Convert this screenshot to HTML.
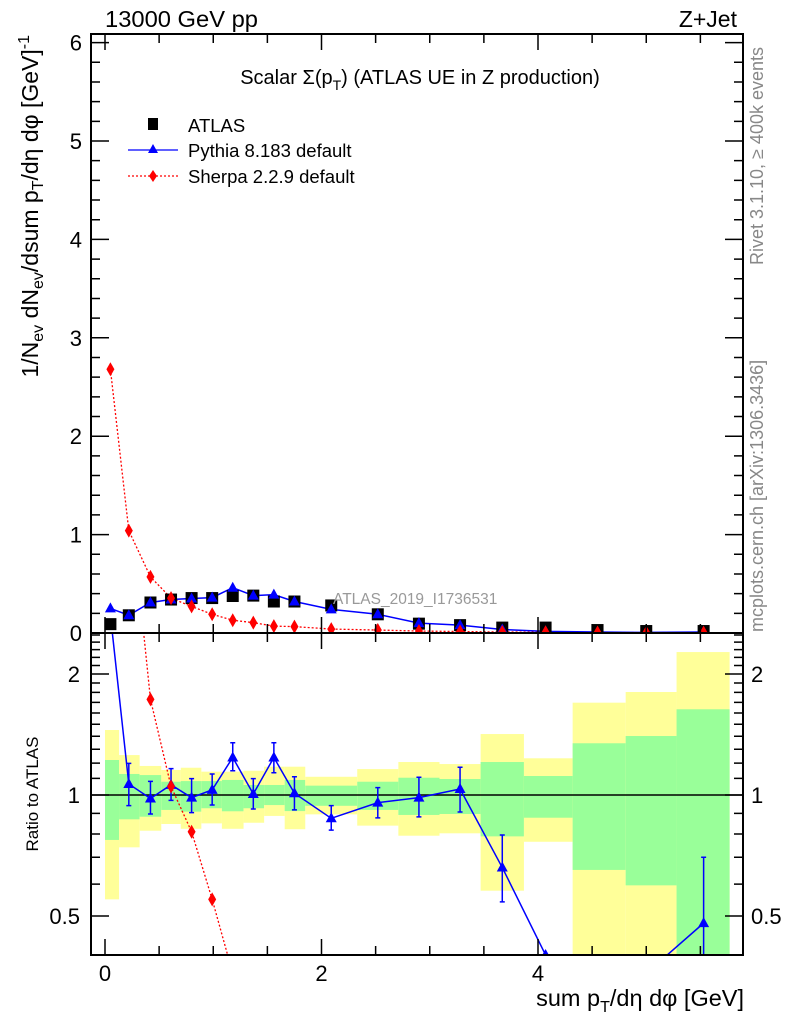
<!DOCTYPE html>
<html><head><meta charset="utf-8"><style>
html,body{margin:0;padding:0;background:#fff;overflow:hidden;width:786px;height:1024px;}
svg{display:block;font-family:"Liberation Sans",sans-serif;}
</style></head><body>
<svg id="chart" width="786" height="1024" viewBox="0 0 786 1024" xmlns="http://www.w3.org/2000/svg">
<rect x="0" y="0" width="786" height="1024" fill="#fff"/>
<g id="bands"></g>
<g id="marks"></g>
<g id="axes"></g>
<text x="105" y="27" font-size="23" textLength="153" lengthAdjust="spacingAndGlyphs">13000 GeV pp</text>
<text x="737" y="27" font-size="23" text-anchor="end">Z+Jet</text>
<text x="420" y="84" font-size="20" text-anchor="middle">Scalar Σ(p<tspan font-size="14" dy="6">T</tspan><tspan dy="-6">) (ATLAS UE in Z production)</tspan></text>
<g>
<g><rect x="148" y="118" width="10" height="12" fill="#000"/><text x="188" y="132" font-size="18.5">ATLAS</text></g>
<g><line x1="128" y1="150" x2="178" y2="150" stroke="#00f" stroke-width="1.3"/><path d="M153,144 L158,153 L148,153 Z" fill="#00f"/><text x="188" y="157" font-size="18.5">Pythia 8.183 default</text></g>
<g><line x1="128" y1="176" x2="178" y2="176" stroke="#f00" stroke-width="1.3" stroke-dasharray="2,2"/><path d="M153,170 L157,176 L153,182 L149,176 Z" fill="#f00"/><text x="188" y="183" font-size="18.5">Sherpa 2.2.9 default</text></g>
</g>
<text x="333" y="604" font-size="15.5" fill="#999">ATLAS_2019_I1736531</text>
<text transform="translate(38,35) rotate(-90)" font-size="23" text-anchor="end">1/N<tspan font-size="16" dy="5">ev</tspan><tspan dy="-5"> dN</tspan><tspan font-size="16" dy="5">ev</tspan><tspan dy="-5">/dsum p</tspan><tspan font-size="16" dy="5">T</tspan><tspan dy="-5">/dη dφ  [GeV]</tspan><tspan font-size="16" dy="-9">-1</tspan></text>
<text transform="translate(38,794) rotate(-90)" font-size="17" text-anchor="middle">Ratio to ATLAS</text>
<text x="744" y="1006" font-size="23.5" text-anchor="end">sum p<tspan font-size="16" dy="6">T</tspan><tspan dy="-6">/dη dφ [GeV]</tspan></text>
<text transform="translate(763,265) rotate(-90)" font-size="18" fill="#888">Rivet 3.1.10, ≥ 400k events</text>
<text transform="translate(763,632) rotate(-90)" font-size="18" fill="#888">mcplots.cern.ch [arXiv:1306.3436]</text>
</svg>
<script>
const xCenters=[0.05,0.22,0.42,0.61,0.80,0.99,1.18,1.37,1.56,1.75,2.09,2.52,2.90,3.28,3.67,4.07,4.55,5.0,5.53];
const binEdges=[0,0.13,0.32,0.52,0.70,0.89,1.08,1.28,1.47,1.66,1.85,2.33,2.71,3.09,3.47,3.87,4.32,4.81,5.28,5.77];
const atlasVals=[0.09,0.18,0.31,0.34,0.355,0.355,0.376,0.38,0.32,0.32,0.28,0.19,0.095,0.08,0.055,0.055,0.03,0.02,0.02];
const pythiaVals=[0.25,0.18,0.31,0.34,0.35,0.36,0.46,0.38,0.39,0.32,0.24,0.19,0.10,0.08,0.036,0.016,0.01,0.006,0.01];
const sherpaVals=[2.68,1.04,0.57,0.355,0.27,0.19,0.13,0.105,0.07,0.065,0.04,0.03,0.02,0.015,0.01,0.008,0.005,0.004,0.004];
const pythiaRatio=[2.8,1.065,0.98,1.06,0.985,1.03,1.24,1.006,1.24,1.01,0.875,0.957,0.985,1.035,0.66,0.40,0.30,0.36,0.48];
const pythiaRatioHi=[2.8,1.199,1.081,1.163,1.098,1.128,1.349,1.098,1.349,1.110,0.941,1.043,1.107,1.172,0.795,0.4,0.3,0.36,0.700];
const pythiaRatioLo=[2.8,0.941,0.897,0.970,0.904,0.944,1.149,0.923,1.136,0.918,0.818,0.877,0.882,0.907,0.542,0.4,0.3,0.36,0.3];
const sherpaRatio=[30,5.8,1.73,1.05,0.81,0.55,0.36,0.28,0.22,0.2,0.14,0.16,0.2,0.19,0.18,0.15,0.17,0.2,0.2];
const yellowHi=[1.451,1.257,1.181,1.154,1.169,1.143,1.143,1.149,1.176,1.176,1.11,1.16,1.208,1.194,1.418,1.234,1.697,1.804,2.268];
const yellowLo=[0.55,0.741,0.815,0.847,0.824,0.850,0.824,0.853,0.887,0.822,0.895,0.839,0.792,0.803,0.578,0.765,0.3,0.3,0.3];
const greenHi=[1.222,1.128,1.121,1.079,1.083,1.083,1.09,1.059,1.059,1.09,1.055,1.079,1.104,1.096,1.208,1.115,1.345,1.402,1.634];
const greenLo=[0.773,0.870,0.883,0.918,0.909,0.927,0.911,0.927,0.944,0.912,0.94,0.918,0.892,0.897,0.789,0.878,0.651,0.596,0.3];
const mainTicks=[0,1,2,3,4,5,6];
const ratioTicks=[0.5,1,2];
const xTicks=[0,2,4];

const NS='http://www.w3.org/2000/svg';
const L=91,R=743,T=34,MB=633,RB=955;
const X=v=>105+v*108.25;
const Y=v=>633-v*98.4;
const RY=v=>795-Math.log2(v)*121;
function mk(tag,attrs,parent){const e=document.createElementNS(NS,tag);for(const k in attrs)e.setAttribute(k,attrs[k]);parent.appendChild(e);return e;}
const svg=document.getElementById('chart');
const defs=mk('defs',{},svg);
const cp1=mk('clipPath',{id:'cpMain'},defs);mk('rect',{x:L,y:T,width:R-L,height:MB-T},cp1);
const cp2=mk('clipPath',{id:'cpRatio'},defs);mk('rect',{x:L,y:MB,width:R-L,height:RB-MB},cp2);
const bands=document.getElementById('bands');bands.setAttribute('clip-path','url(#cpRatio)');
const marks=document.getElementById('marks');
const axes=document.getElementById('axes');

for(let i=0;i<xCenters.length;i++){
  const x0=X(binEdges[i]),x1=X(binEdges[i+1]);
  const y=mk('rect',{x:x0,y:RY(yellowHi[i]),width:x1-x0,height:RY(yellowLo[i])-RY(yellowHi[i]),fill:'#ffff99'},bands);
  
  
  const g=mk('rect',{x:x0,y:RY(greenHi[i]),width:x1-x0,height:RY(greenLo[i])-RY(greenHi[i]),fill:'#99ff99'},bands);
  
  
}
const u=mk('line',{x1:L,x2:R,y1:RY(1),y2:RY(1),stroke:'#000','stroke-width':1.5},marks);



const gm=mk('g',{'clip-path':'url(#cpMain)'},marks);
const gr=mk('g',{'clip-path':'url(#cpRatio)'},marks);
function tri(x,y,p,n){const t=mk('path',{d:`M${x},${y-6} L${x+5.5},${y+4} L${x-5.5},${y+4} Z`,fill:'#00f'},p);}
function dia(x,y,p,n){const t=mk('path',{d:`M${x},${y-7} L${x+4},${y} L${x},${y+7} L${x-4},${y} Z`,fill:'#f00'},p);}
const sl=mk('polyline',{points:xCenters.map((x,i)=>X(x)+','+Y(sherpaVals[i])).join(' '),fill:'none',stroke:'#f00','stroke-width':1.3,'stroke-dasharray':'2,2'},gm);


const pl=mk('polyline',{points:xCenters.map((x,i)=>X(x)+','+Y(pythiaVals[i])).join(' '),fill:'none',stroke:'#00f','stroke-width':1.5},gm);


xCenters.forEach((x,i)=>{
  const s=mk('rect',{x:X(x)-6,y:Y(atlasVals[i])-6,width:12,height:12,fill:'#000'},gm);
  
  
});
xCenters.forEach((x,i)=>{tri(X(x),Y(pythiaVals[i]),gm,'pythia-point');dia(X(x),Y(sherpaVals[i]),gm,'sherpa-point');});
const srl=mk('polyline',{points:xCenters.map((x,i)=>X(x)+','+RY(sherpaRatio[i])).join(' '),fill:'none',stroke:'#f00','stroke-width':1.3,'stroke-dasharray':'2,2'},gr);


const prl=mk('polyline',{points:xCenters.map((x,i)=>X(x)+','+RY(pythiaRatio[i])).join(' '),fill:'none',stroke:'#00f','stroke-width':1.5},gr);


xCenters.forEach((x,i)=>{
  if(pythiaRatioHi[i]-pythiaRatioLo[i]>0.001){
    const px=X(x),y1=RY(pythiaRatioHi[i]),y2=RY(pythiaRatioLo[i]);
    const e=mk('path',{d:`M${px},${y1} L${px},${y2} M${px-2.5},${y1} L${px+2.5},${y1} M${px-2.5},${y2} L${px+2.5},${y2}`,stroke:'#00f','stroke-width':1.5,fill:'none'},gr);
    
    
  }
  tri(X(x),RY(pythiaRatio[i]),gr,'pythia-ratio-point');
  dia(X(x),RY(sherpaRatio[i]),gr,'sherpa-ratio-point');
});
const f1=mk('rect',{x:L,y:T,width:R-L,height:MB-T,fill:'none',stroke:'#000','stroke-width':2},axes);


const f2=mk('rect',{x:L,y:MB,width:R-L,height:RB-MB,fill:'none',stroke:'#000','stroke-width':2},axes);


let d='';
for(let v=0;v<=5.75;v+=0.5){const px=X(v);const big=Math.abs(v%2)<1e-6;const h=big?16:9;
  d+=`M${px},${MB} L${px},${MB-h} M${px},${T} L${px},${T+h} M${px},${RB} L${px},${RB-h} M${px},${MB} L${px},${MB+h} `;}
for(let v=0;v<=6.01;v+=0.2){const py=Y(v);const big=Math.abs(v-Math.round(v))<1e-6;const w=big?18:9;
  d+=`M${L},${py} L${L+w},${py} M${R},${py} L${R-w},${py} `;}
const rt=[0.4,0.5,0.6,0.7,0.8,0.9,1,1.1,1.2,1.3,1.4,1.5,1.6,1.7,1.8,1.9,2,2.1,2.2,2.3,2.4,2.5];
rt.forEach(v=>{const py=RY(v);if(py<MB||py>RB)return;const big=(v===0.5||v===1||v===2);const w=big?18:9;
  d+=`M${L},${py} L${L+w},${py} M${R},${py} L${R-w},${py} `;});
const tk=mk('path',{d:d,stroke:'#000','stroke-width':1.5,fill:'none'},axes);


mainTicks.forEach(v=>{const t=mk('text',{x:82,y:Y(v)+8,'font-size':22,'text-anchor':'end'},axes);t.textContent=String(v);
  });
ratioTicks.forEach(v=>{
  const t=mk('text',{x:80,y:RY(v)+8,'font-size':22,'text-anchor':'end'},axes);t.textContent=String(v);
  
  
  const t2=mk('text',{x:751,y:RY(v)+8,'font-size':22},axes);t2.textContent=String(v);
  
  
});
xTicks.forEach(v=>{const t=mk('text',{x:X(v),y:981,'font-size':22,'text-anchor':'middle'},axes);t.textContent=String(v);
  });
</script>
</body></html>
